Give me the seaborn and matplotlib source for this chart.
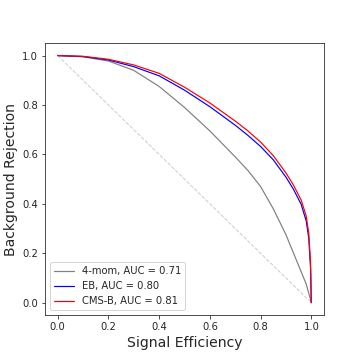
import numpy as np
import pandas as pd
import matplotlib
matplotlib.use("Agg")
import matplotlib.pyplot as plt
import seaborn as sns

# ==========================
# DATA
# ==========================
sig_eff = [0.0, 0.1, 0.2, 0.3, 0.4, 0.5, 0.6, 0.7, 0.75, 0.8, 0.85, 0.9, 0.93, 0.96, 0.98, 0.99, 0.997, 1.0]
rej_4mom = [1.0, 0.995, 0.978, 0.94, 0.875, 0.79, 0.695, 0.59, 0.535, 0.47, 0.38, 0.275, 0.20, 0.125, 0.075, 0.038, 0.012, 0.0]
rej_eb = [1.0, 0.996, 0.982, 0.955, 0.918, 0.86, 0.793, 0.718, 0.677, 0.632, 0.578, 0.508, 0.458, 0.398, 0.33, 0.26, 0.14, 0.0]
rej_cmsb = [1.0, 0.997, 0.985, 0.962, 0.928, 0.872, 0.808, 0.735, 0.695, 0.65, 0.595, 0.525, 0.475, 0.415, 0.35, 0.28, 0.16, 0.0]

labels = ["4-mom, AUC = 0.71", "EB, AUC = 0.80", "CMS-B, AUC = 0.81"]
colors = ["grey", "blue", "red"]

df = pd.concat([
    pd.DataFrame({"eff": sig_eff, "rej": rej_4mom, "model": labels[0]}),
    pd.DataFrame({"eff": sig_eff, "rej": rej_eb, "model": labels[1]}),
    pd.DataFrame({"eff": sig_eff, "rej": rej_cmsb, "model": labels[2]}),
])

# ==========================
# PLOT
# ==========================
sns.set_style("ticks")
plt.rcParams['font.family'] = ['DejaVu Sans']

fig, ax = plt.subplots(figsize=(5, 5), dpi=72)
fig.subplots_adjust(left=0.125, right=0.9, top=0.88, bottom=0.125)

# random-guess diagonal
ax.plot([0, 1], [1, 0], linestyle="--", color="#cccccc", linewidth=1)

sns.lineplot(data=df, x="eff", y="rej", hue="model", palette=dict(zip(labels, colors)),
             estimator=None, sort=False, linewidth=1.2, ax=ax)

ax.set_xlabel("Signal Efficiency", fontsize=14)
ax.set_ylabel("Background Rejection", fontsize=14)
ax.set_xticks([0.0, 0.2, 0.4, 0.6, 0.8, 1.0])
ax.set_yticks([0.0, 0.2, 0.4, 0.6, 0.8, 1.0])
ax.tick_params(labelsize=10)
ax.legend(loc="lower left", fontsize=10, title=None)

plt.savefig("out.png", dpi=72)
